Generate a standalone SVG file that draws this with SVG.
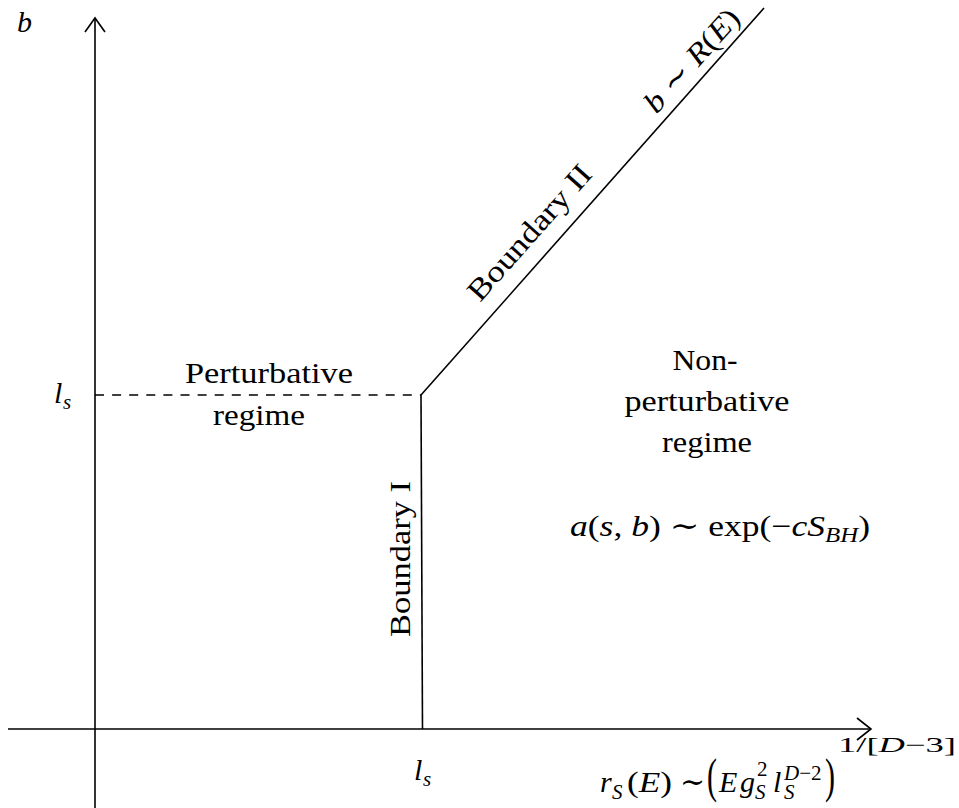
<svg xmlns="http://www.w3.org/2000/svg" width="959" height="808" viewBox="0 0 959 808">
<defs>
<style>
.ln{stroke:#000;stroke-width:1.6;fill:none;stroke-linecap:butt;}
.dash{stroke-dasharray:9 8.1;}
text{font-family:"Liberation Serif","DejaVu Serif",serif;font-size:30px;fill:#000;}
.it{font-style:italic;}
.sm{font-size:21px;}
.mid{text-anchor:middle;}
</style>
</defs>
<rect x="0" y="0" width="959" height="808" fill="#fff"/>
<g id="connectors">
<line class="ln" x1="95" y1="808" x2="95" y2="18"/>
<path class="ln" d="M85,32 L95,18 L105,32"/>
<line class="ln" x1="8" y1="729" x2="871" y2="729"/>
<path class="ln" d="M857,718 L871,729 L857,740"/>
<line class="ln dash" x1="95" y1="395" x2="421" y2="395"/>
<line class="ln" x1="421" y1="395" x2="422.5" y2="729"/>
<line class="ln" x1="421" y1="395" x2="764" y2="8"/>
</g>
<g id="axis-labels">
<text class="it" x="17" y="32">b</text>
<text class="it" x="54" y="403">l</text><text class="it sm" x="63" y="409">s</text>
<text class="it" x="414" y="780">l</text><text class="it sm" x="423" y="786">s</text>
</g>
<g id="perturbative">
<text class="mid" x="269" y="383" textLength="168" lengthAdjust="spacingAndGlyphs">Perturbative</text>
<text class="mid" x="259" y="425" textLength="92" lengthAdjust="spacingAndGlyphs">regime</text>
</g>
<g id="nonperturbative">
<text class="mid" x="705" y="370" textLength="65" lengthAdjust="spacingAndGlyphs">Non-</text>
<text class="mid" x="707" y="411" textLength="165" lengthAdjust="spacingAndGlyphs">perturbative</text>
<text class="mid" x="707" y="452" textLength="90" lengthAdjust="spacingAndGlyphs">regime</text>
<text x="570" y="536" textLength="300" lengthAdjust="spacingAndGlyphs"><tspan class="it">a</tspan>(<tspan class="it">s</tspan>, <tspan class="it">b</tspan>) ∼ exp(−<tspan class="it">cS</tspan><tspan class="it sm" dy="6">BH</tspan><tspan dy="-6">)</tspan></text>
</g>
<g id="boundary-1">
<text class="mid" transform="translate(410,559) rotate(-90)" x="0" y="0" textLength="156" lengthAdjust="spacingAndGlyphs">Boundary I</text>
</g>
<g id="boundary-2">
<text class="mid" transform="translate(549.4,250.4) rotate(-48.37)" x="0" y="-17" textLength="171" lengthAdjust="spacingAndGlyphs">Boundary II</text>
<text class="mid" transform="translate(706.5,73.6) rotate(-48.37)" x="0" y="-10" textLength="128" lengthAdjust="spacingAndGlyphs"><tspan class="it">b</tspan> ∼ <tspan class="it">R</tspan>(<tspan class="it">E</tspan>)</text>
</g>
<g id="rs-formula">
<text class="it" x="600" y="792">r</text>
<text class="it sm" x="612" y="799">S</text>
<text x="627" y="792" textLength="45" lengthAdjust="spacingAndGlyphs">(<tspan class="it">E</tspan>)</text>
<text x="680" y="792">∼</text>
<text transform="translate(707,792) scale(1,1.6)">(</text>
<text class="it" x="719" y="792">E</text>
<text class="it" x="740" y="792">g</text>
<text class="sm" x="757" y="776">2</text>
<text class="it sm" x="755" y="799">S</text>
<text class="it" x="773" y="792">l</text>
<text class="sm" x="784" y="780"><tspan class="it">D</tspan>−2</text>
<text class="it sm" x="784" y="799">S</text>
<text transform="translate(825,792) scale(1,1.6)">)</text>
<text class="sm" x="838" y="752" textLength="118" lengthAdjust="spacingAndGlyphs">1/[<tspan class="it">D</tspan>−3]</text>
</g>
</svg>
